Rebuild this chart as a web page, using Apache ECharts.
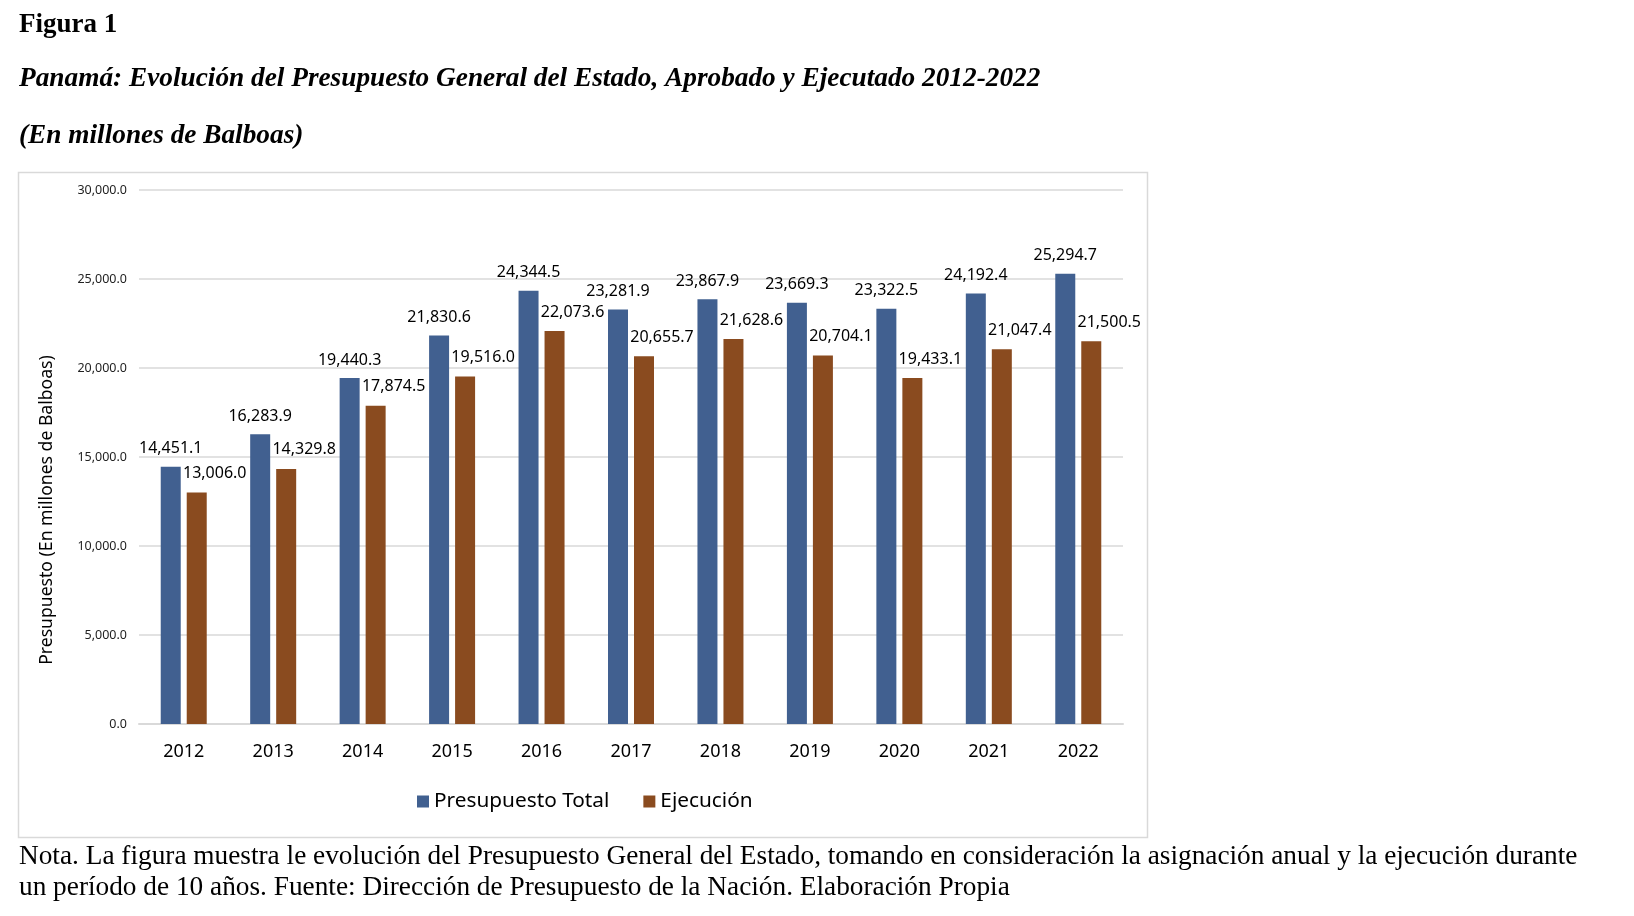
<!DOCTYPE html>
<html>
<head>
<meta charset="utf-8">
<script src="https://cdn.jsdelivr.net/npm/echarts@6/dist/echarts.min.js"></script>
<style>
html,body{margin:0;padding:0;background:#fff;}
#chart{width:1634px;height:916px;}
</style>
</head>
<body>
<div id="chart"></div>
<script>
const categories = ['2012','2013','2014','2015','2016','2017','2018','2019','2020','2021','2022'];
const presupuestoTotal = [14451.1, 16283.9, 19440.3, 21830.6, 24344.5, 23281.9, 23867.9, 23669.3, 23322.5, 24192.4, 25294.7];
const ejecucion = [13006.0, 14329.8, 17874.5, 19516.0, 22073.6, 20655.7, 21628.6, 20704.1, 19433.1, 21047.4, 21500.5];
const seriesNames = ['Presupuesto Total', 'Ejecución'];
const yTicks = {min: 0, max: 30000, interval: 5000};

const fmt = v => Number(v).toLocaleString('en-US', {minimumFractionDigits: 1, maximumFractionDigits: 1});
const serif = '"Liberation Serif", "Times New Roman", serif';
const sans = '"Noto Sans", "Open Sans", sans-serif';

const chart = echarts.init(document.getElementById('chart'));
chart.setOption({
  backgroundColor: '#ffffff',
  animation: false,
  grid: {left: 139, right: 511, top: 190, bottom: 192, containLabel: false},
  legend: {
    left: 412, top: 786,
    itemWidth: 12, itemHeight: 12, itemGap: 34,
    icon: 'rect',
    textStyle: {fontFamily: sans, fontSize: 20.8, color: '#000'},
    data: seriesNames
  },
  xAxis: {
    type: 'category',
    data: categories,
    axisLine: {lineStyle: {color: '#d9d9d9', width: 2}},
    axisTick: {show: false},
    axisLabel: {fontFamily: sans, fontSize: 18, color: '#000', margin: 19}
  },
  yAxis: {
    type: 'value',
    min: yTicks.min, max: yTicks.max, interval: yTicks.interval,
    axisLine: {show: false},
    axisTick: {show: false},
    splitLine: {lineStyle: {color: '#d9d9d9', width: 1.5}},
    axisLabel: {fontFamily: sans, fontSize: 12.5, color: '#222', margin: 12, formatter: v => fmt(v)}
  },
  series: [
    {
      name: seriesNames[0], type: 'bar', data: presupuestoTotal,
      barWidth: 20, barGap: '30%',
      itemStyle: {color: '#416090'},
      label: {show: true, position: 'top', distance: 10, fontFamily: sans, fontSize: 16, color: '#000', formatter: p => fmt(p.value)}
    },
    {
      name: seriesNames[1], type: 'bar', data: ejecucion,
      barWidth: 20,
      itemStyle: {color: '#8a4b1f'},
      label: {show: true, position: 'top', distance: 11, offset: [18, 0], fontFamily: sans, fontSize: 16, color: '#000', formatter: p => fmt(p.value)}
    }
  ],
  graphic: [
    {type: 'rect', z: -1, shape: {x: 18.5, y: 172.5, width: 1129, height: 665}, style: {fill: 'none', stroke: '#d9d9d9', lineWidth: 1.5}},
    {type: 'text', x: 19, y: 25, style: {text: 'Figura 1', font: 'bold 27px ' + serif, fill: '#000', textVerticalAlign: 'middle'}},
    {type: 'text', x: 19, y: 79, style: {text: 'Panamá: Evolución del Presupuesto General del Estado, Aprobado y Ejecutado 2012-2022', font: 'italic bold 27.3px ' + serif, fill: '#000', textVerticalAlign: 'middle'}},
    {type: 'text', x: 19, y: 136, style: {text: '(En millones de Balboas)', font: 'italic bold 27.3px ' + serif, fill: '#000', textVerticalAlign: 'middle'}},
    {type: 'text', x: 47, y: 510, rotation: Math.PI / 2, style: {text: 'Presupuesto (En millones de Balboas)', font: '17.6px ' + sans, fill: '#000', textAlign: 'center', textVerticalAlign: 'middle'}},
    {type: 'text', x: 19, y: 857, style: {text: 'Nota. La figura muestra le evolución del Presupuesto General del Estado, tomando en consideración la asignación anual y la ejecución durante', font: '27.3px ' + serif, fill: '#000', textVerticalAlign: 'middle'}},
    {type: 'text', x: 19, y: 888, style: {text: 'un período de 10 años. Fuente: Dirección de Presupuesto de la Nación. Elaboración Propia', font: '27.3px ' + serif, fill: '#000', textVerticalAlign: 'middle'}}
  ]
});
</script>
</body>
</html>
